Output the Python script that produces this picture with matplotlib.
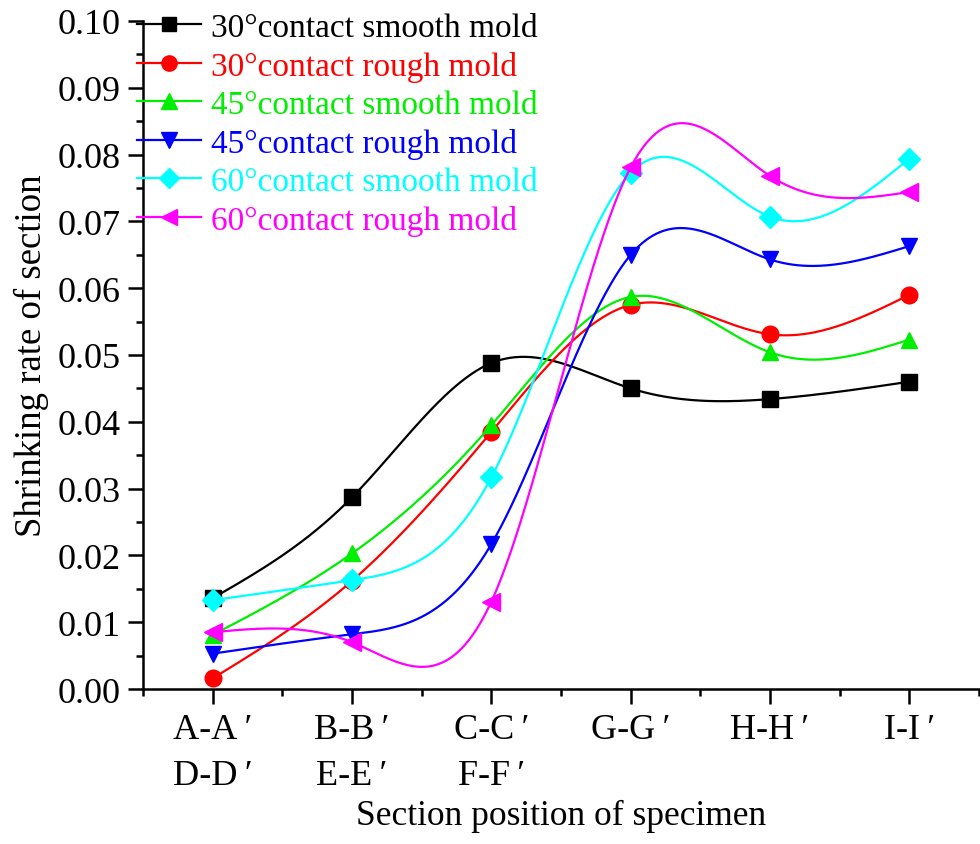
import numpy as np
import matplotlib.pyplot as plt
from matplotlib.ticker import MultipleLocator

plt.rcParams['font.family'] = ['Liberation Serif', 'DejaVu Serif']

# Section positions and shrinking rates
sections = ["A-A\u2009\u2032\nD-D\u2009\u2032", "B-B\u2009\u2032\nE-E\u2009\u2032",
            "C-C\u2009\u2032\nF-F\u2009\u2032", "G-G\u2009\u2032", "H-H\u2009\u2032",
            "I-I\u2009\u2032"]

smooth_30 = [0.0136, 0.0287, 0.0488, 0.0450, 0.0434, 0.0460]
rough_30 = [0.0016, 0.0162, 0.0385, 0.0575, 0.0531, 0.0590]
smooth_45 = [0.0081, 0.0203, 0.0395, 0.0587, 0.0504, 0.0523]
rough_45 = [0.0053, 0.0082, 0.0217, 0.0650, 0.0643, 0.0663]
smooth_60 = [0.0133, 0.0163, 0.0317, 0.0773, 0.0707, 0.0794]
rough_60 = [0.0085, 0.0070, 0.0131, 0.0781, 0.0768, 0.0744]

labels = ["30°contact smooth mold", "30°contact rough mold",
          "45°contact smooth mold", "45°contact rough mold",
          "60°contact smooth mold", "60°contact rough mold"]
series = [smooth_30, rough_30, smooth_45, rough_45, smooth_60, rough_60]
colors = ['#000000', '#FF0000', '#00EE00', '#0000FF', '#00FFFF', '#FF00FF']
markers = ['s', 'o', '^', 'v', 'D', '<']
msizes = [11, 12, 12, 12, 11, 13]


def natural_spline(x, y, xs):
    # plain natural cubic spline, like Origin's "Spline" connect
    x = np.asarray(x, float)
    y = np.asarray(y, float)
    n = len(x)
    h = np.diff(x)
    A = np.zeros((n, n))
    b = np.zeros(n)
    A[0, 0] = A[-1, -1] = 1.0
    for i in range(1, n - 1):
        A[i, i - 1] = h[i - 1]
        A[i, i] = 2 * (h[i - 1] + h[i])
        A[i, i + 1] = h[i]
        b[i] = 6 * ((y[i + 1] - y[i]) / h[i] - (y[i] - y[i - 1]) / h[i - 1])
    M = np.linalg.solve(A, b)
    idx = np.clip(np.searchsorted(x, xs) - 1, 0, n - 2)
    x0, x1 = x[idx], x[idx + 1]
    hh = x1 - x0
    t0 = x1 - xs
    t1 = xs - x0
    return (M[idx] * t0**3 / (6 * hh) + M[idx + 1] * t1**3 / (6 * hh)
            + (y[idx] / hh - M[idx] * hh / 6) * t0
            + (y[idx + 1] / hh - M[idx + 1] * hh / 6) * t1)


xpos = np.arange(len(sections))
xs = np.linspace(0, len(sections) - 1, 400)

fig = plt.figure(figsize=(9.8, 8.45), dpi=100)
ax = fig.add_axes([0.146, 0.1834, 0.853, 0.7906])

for vals, label, color, mk, ms in zip(series, labels, colors, markers, msizes):
    ax.plot(xs, natural_spline(xpos, vals, xs), color=color, linewidth=1.6)
    ax.plot(xpos, vals, linestyle='none', marker=mk, markersize=ms, color=color)
    # proxy line for legend (line + marker)
    ax.plot([], [], color=color, linewidth=1.6, marker=mk, markersize=ms - 1, label=label)

ax.tick_params(axis='both', which='major', direction='out', length=11, width=1.8,
               labelsize=26, pad=5)
ax.tick_params(axis='x', which='major', pad=6)
ax.tick_params(axis='both', which='minor', direction='out', length=5, width=1.8)

ax.set_xlim(-0.5, 5.5)
ax.set_ylim(0, 0.10)
ax.set_xticks(xpos)
ax.set_xticklabels(sections)
ax.xaxis.set_minor_locator(MultipleLocator(0.5))
ax.yaxis.set_major_locator(MultipleLocator(0.01))
ax.yaxis.set_minor_locator(MultipleLocator(0.005))
ax.yaxis.set_major_formatter(plt.FuncFormatter(lambda v, p: f"{v:.2f}"))

fig.canvas.draw()
for lbl in ax.get_xticklabels():
    lbl.set_linespacing(1.52)
    lbl.set_multialignment('center')

for side in ['top', 'right']:
    ax.spines[side].set_visible(False)
for side in ['left', 'bottom']:
    ax.spines[side].set_linewidth(1.8)

ax.set_xlabel("Section position of specimen", fontsize=25.5, labelpad=5)
ax.set_ylabel("Shrinking rate of section", fontsize=26.5, labelpad=6)

leg = ax.legend(loc='upper left', bbox_to_anchor=(-0.007, 1.013), frameon=False,
                fontsize=24, handlelength=1.9, handletextpad=0.3, labelspacing=0.235,
                borderaxespad=0, borderpad=0)
for text, color in zip(leg.get_texts(), colors):
    text.set_color(color)

fig.savefig("out.png", dpi=100)
